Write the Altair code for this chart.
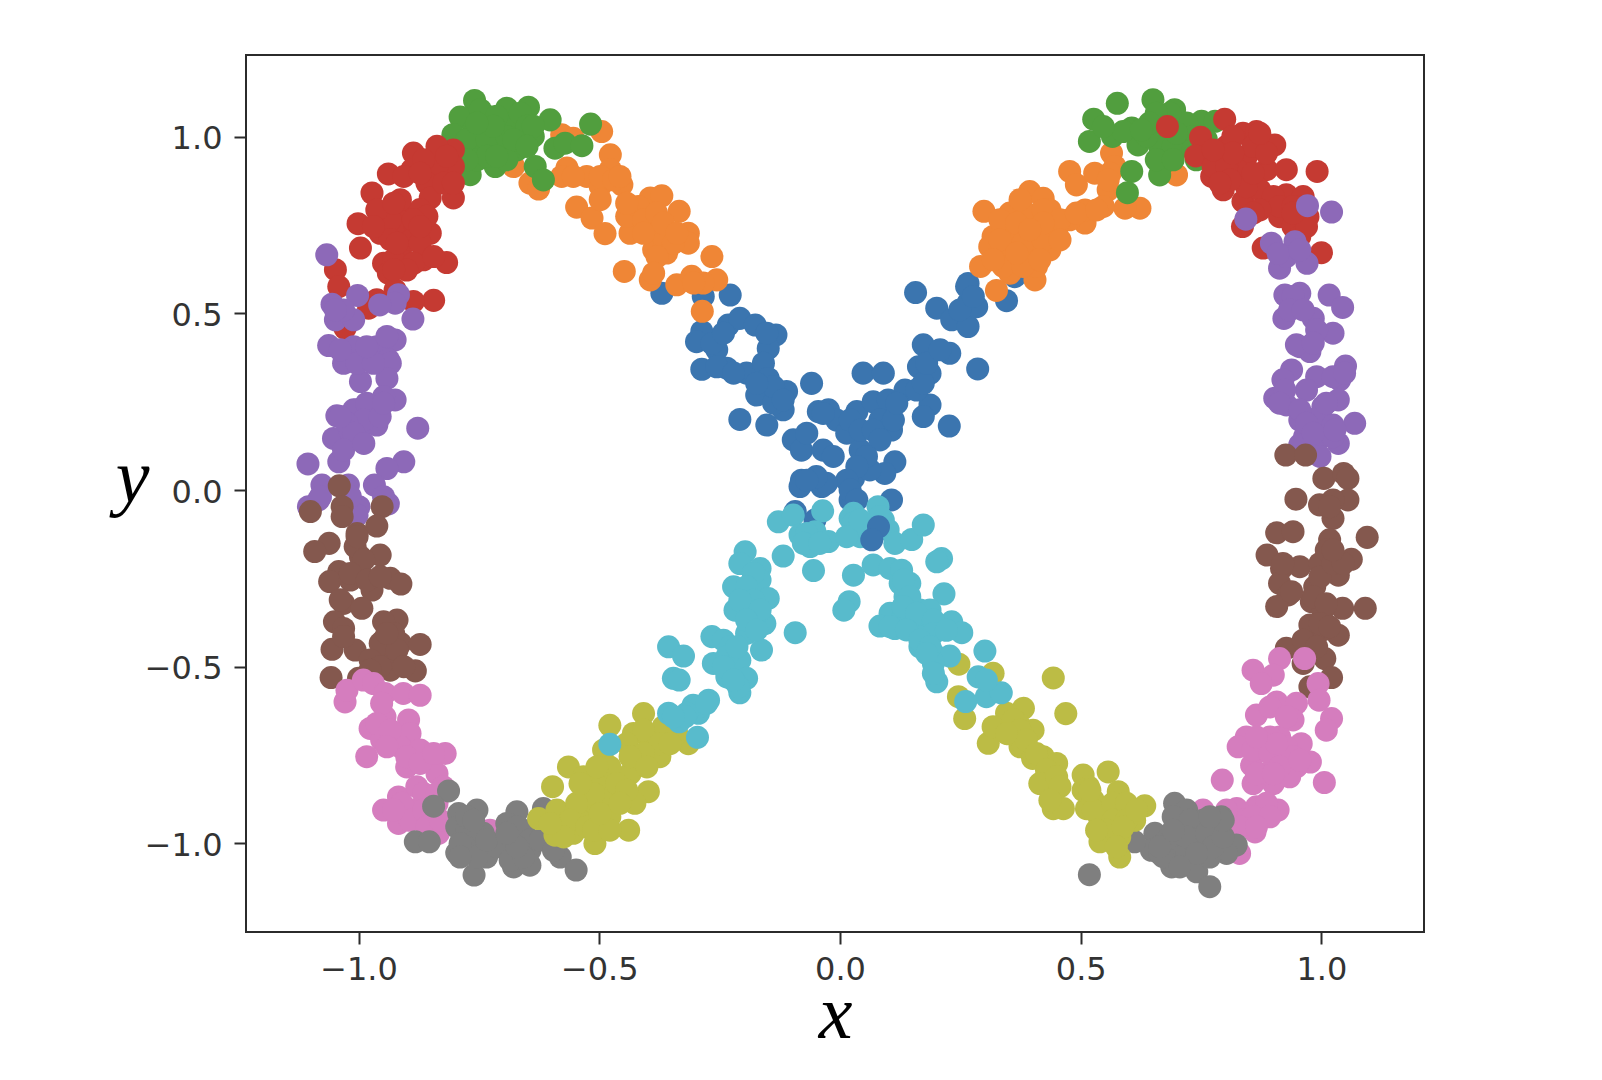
import altair as alt
import pandas as pd

blue = [(-0.370,0.557),(-0.284,0.548),(-0.228,0.552),(-0.287,0.449),(-0.298,0.420),(-0.232,0.467),(-0.208,0.486),(-0.176,0.467),(-0.133,0.439),(-0.149,0.401),(-0.256,0.397),(-0.287,0.342),(-0.235,0.345),(-0.194,0.331),(-0.159,0.359),(-0.149,0.316),(-0.173,0.269),(-0.111,0.279),(-0.059,0.302),(-0.208,0.200),(-0.152,0.184),(-0.118,0.227),(-0.138,0.246),(-0.097,0.142),(-0.080,0.113),(-0.045,0.222),(-0.024,0.227),(-0.007,0.198),(-0.035,0.113),(-0.014,0.095),(-0.069,0.161),(0.035,0.222),(0.014,0.161),(0.042,0.113),(0.069,0.250),(0.100,0.255),(0.107,0.170),(0.083,0.198),(0.048,0.331),(0.090,0.331),(0.135,0.283),(0.173,0.411),(0.163,0.349),(0.187,0.330),(0.228,0.387),(0.187,0.241),(0.173,0.208),(0.227,0.181),(0.286,0.343),(0.157,0.559),(0.201,0.515),(0.232,0.482),(0.266,0.463),(0.266,0.529),(0.266,0.585),(0.284,0.519),(0.114,0.080),(0.093,0.047),(0.028,0.033),(-0.080,0.028),(-0.083,0.010),(-0.038,0.010),(0.021,-0.028),(0.107,-0.028),(-0.093,-0.061),(-0.052,-0.085),(0.062,0.057),(0.346,0.536),(0.363,0.604),(0.263,0.576),
 (-0.138,0.293),(-0.118,0.255),(-0.173,0.302),(-0.266,0.415),(-0.242,0.444),(-0.152,0.444),(-0.256,0.349),(-0.221,0.331),(0.021,0.198),(0.042,0.170),(0.069,0.170),(0.083,0.142),(0.111,0.198),(0.118,0.246),(0.159,0.283),(0.173,0.302),(0.180,0.359),(0.208,0.397),(0.249,0.510),(0.277,0.548),(0.055,0.095),(0.035,0.066),(0.014,0.028),(0.021,0.000),(0.035,-0.028),(-0.028,0.019),(-0.049,0.038),(-0.069,0.028),(-0.035,0.217)]
orange = [(-0.495,1.015),(-0.578,1.006),(-0.554,0.996),(-0.477,0.949),(-0.678,0.916),(-0.644,0.869),(-0.626,0.852),(-0.567,0.912),(-0.578,0.888),(-0.526,0.888),(-0.498,0.860),(-0.477,0.907),(-0.453,0.864),(-0.547,0.801),(-0.515,0.770),(-0.488,0.726),(-0.436,0.727),(-0.443,0.775),(-0.394,0.827),(-0.370,0.833),(-0.334,0.789),(-0.419,0.803),(-0.408,0.765),(-0.380,0.727),(-0.315,0.727),(-0.315,0.699),(-0.387,0.680),(-0.360,0.671),(-0.266,0.661),(-0.448,0.619),(-0.394,0.595),(-0.339,0.581),(-0.308,0.605),(-0.256,0.595),(-0.286,0.506),(-0.284,0.586),(-0.367,0.718),(0.699,0.892),(0.564,0.954),(0.571,0.916),(0.477,0.902),(0.491,0.864),(0.529,0.897),(0.557,0.850),(0.623,0.798),(0.592,0.798),(0.547,0.803),(0.509,0.756),(0.509,0.793),(0.477,0.765),(0.394,0.845),(0.422,0.826),(0.299,0.789),(0.353,0.784),(0.387,0.784),(0.436,0.793),(0.318,0.718),(0.360,0.727),(0.401,0.737),(0.450,0.737),(0.346,0.671),(0.394,0.671),(0.436,0.680),(0.292,0.633),(0.353,0.614),(0.405,0.595),(0.325,0.565),(0.408,0.633),
 (0.332,0.765),(0.374,0.822),(0.422,0.793),(0.311,0.689),(0.332,0.708),(0.367,0.756),(0.380,0.699),(0.422,0.708),(0.457,0.765),(0.422,0.756),(0.339,0.633),(0.380,0.633),(0.318,0.652),(0.367,0.671),(0.394,0.737),(0.415,0.652),(0.457,0.708),(0.491,0.784),(0.533,0.793),(0.561,0.897),(0.557,0.878),
 (-0.381,0.784),(-0.408,0.727),(-0.346,0.699),(-0.367,0.756),(-0.380,0.661),(-0.339,0.727),(-0.443,0.812),(-0.498,0.888),(-0.470,0.878),(-0.304,0.586),(-0.457,0.888),(-0.387,0.614),(-0.554,0.888),(-0.498,0.822)]
green = [(-0.759,1.103),(-0.789,1.056),(-0.733,1.058),(-0.692,1.081),(-0.647,1.084),(-0.602,1.048),(-0.518,1.036),(-0.804,1.006),(-0.761,1.020),(-0.720,1.020),(-0.678,1.039),(-0.664,1.001),(-0.637,1.001),(-0.747,0.973),(-0.706,0.982),(-0.671,0.963),(-0.768,0.893),(-0.716,0.916),(-0.692,0.935),(-0.633,0.916),(-0.616,0.878),(-0.592,0.968),(-0.571,0.982),(-0.536,0.975),(-0.754,0.935),(-0.789,0.963),(0.576,1.095),(0.650,1.105),(0.695,1.077),(0.527,1.050),(0.518,0.987),(0.566,1.001),(0.606,1.025),(0.619,0.977),(0.657,1.039),(0.682,1.020),(0.664,0.973),(0.671,0.925),(0.664,0.892),(0.751,1.044),(0.779,1.044),(0.720,1.039),(0.706,0.982),(0.606,0.902),(0.597,0.842),(0.740,0.935),(0.761,0.992),
 (-0.747,1.077),(-0.713,1.058),(-0.664,1.067),(-0.775,0.992),(-0.733,0.992),(-0.692,1.001),(-0.650,1.030),(-0.733,0.945),(-0.775,0.935),(-0.720,1.030),(-0.678,0.992),(-0.637,1.030),(-0.650,0.973),(-0.754,1.039),(-0.713,0.945),
 (0.637,1.001),(0.685,1.067),(0.657,1.067),(0.692,0.973),(0.643,1.039),(0.733,1.001),(0.699,1.010),(0.657,0.935),(0.692,0.935),(0.588,1.015),(0.626,1.020),(0.547,1.029),(0.733,0.963)]
red = [(-0.803,0.963),(-0.837,0.973),(-0.886,0.954),(-0.803,0.916),(-0.837,0.916),(-0.938,0.895),(-0.889,0.907),(-0.972,0.841),(-0.858,0.869),(-0.803,0.827),(-0.851,0.827),(-1.001,0.754),(-0.955,0.784),(-0.913,0.794),(-0.872,0.794),(-0.955,0.727),(-0.913,0.737),(-0.851,0.727),(-0.882,0.746),(-0.996,0.685),(-0.913,0.680),(-0.948,0.642),(-0.906,0.652),(-0.865,0.652),(-0.817,0.644),(-0.938,0.614),(-1.048,0.624),(-1.041,0.576),(-0.844,0.537),(-0.886,0.534),(-0.962,0.539),(-0.979,0.515),(-1.028,0.458),(-0.924,0.567),(-0.889,0.709),(-0.934,0.765),(-0.858,0.775),(0.680,1.029),(0.799,1.050),(0.749,0.999),(0.739,0.946),(0.782,0.944),(0.837,1.010),(0.865,1.015),(0.903,0.977),(0.803,0.973),(0.844,0.944),(0.886,0.907),(0.927,0.907),(0.991,0.902),(0.772,0.888),(0.796,0.850),(0.837,0.888),(0.837,0.817),(0.872,0.850),(0.927,0.836),(0.962,0.831),(0.913,0.774),(0.972,0.774),(0.941,0.746),(0.836,0.746),(0.955,0.718),(0.879,0.685),(1.000,0.672),(0.824,0.907),
 (-0.865,0.935),(-0.817,0.945),(-0.906,0.888),(-0.872,0.897),(-0.823,0.869),(-0.803,0.869),(-0.913,0.822),(-0.962,0.793),(-0.927,0.812),(-0.934,0.709),(-0.969,0.746),(-0.872,0.699),(-0.886,0.765),(-0.872,0.746),(-0.927,0.652),(-0.886,0.642),(-0.844,0.661),(-0.900,0.623),(-0.927,0.624),(-0.920,0.699),
 (0.816,1.001),(0.775,0.916),(0.803,0.916),(0.858,0.973),(0.886,0.954),(0.844,0.859),(0.810,0.878),(0.789,0.869),(0.858,0.897),(0.900,0.831),(0.913,0.803),(0.941,0.803),(0.955,0.784),(0.872,0.793),(0.858,0.784),(0.969,0.746),(0.941,0.784),(0.816,0.954),(0.775,0.963),(0.872,1.010)]
purple = [(-1.066,0.666),(-1.002,0.551),(-1.055,0.526),(-1.048,0.482),(-1.010,0.482),(-0.917,0.553),(-0.924,0.529),(-0.956,0.524),(-0.887,0.484),(-1.062,0.409),(-1.010,0.406),(-0.962,0.406),(-0.924,0.425),(-1.027,0.369),(-0.983,0.378),(-0.938,0.369),(-1.031,0.359),(-0.934,0.359),(-0.996,0.307),(-0.941,0.316),(-0.924,0.255),(-1.045,0.210),(-1.010,0.227),(-0.962,0.236),(-0.962,0.184),(-1.052,0.146),(-0.996,0.142),(-0.877,0.175),(-1.041,0.080),(-1.105,0.074),(-0.906,0.080),(-0.941,0.061),(-0.967,0.014),(-1.076,0.014),(-1.021,0.014),(-1.104,-0.047),(-1.083,-0.028),(-0.938,-0.039),(-0.999,-0.047),(-1.003,-0.071),(-1.017,0.165),(0.896,0.699),(0.945,0.703),(0.913,0.628),(0.970,0.642),(0.927,0.661),(0.924,0.552),(0.955,0.557),(1.016,0.552),(1.044,0.517),(0.922,0.486),(0.983,0.486),(1.024,0.444),(0.955,0.406),(0.976,0.392),(0.938,0.340),(0.920,0.312),(1.050,0.351),(0.990,0.321),(1.038,0.312),(0.969,0.283),(0.903,0.260),(0.927,0.241),(1.035,0.255),(1.003,0.236),(0.955,0.198),(0.990,0.203),(1.069,0.189),(1.024,0.184),(1.035,0.132),(0.965,0.151),(0.997,0.146),(0.955,0.128),(0.997,0.095),(0.843,0.767),(0.971,0.805),(1.021,0.787),
 (-1.003,0.359),(-0.969,0.359),(-1.003,0.227),(-0.983,0.246),(-0.948,0.264),(-0.989,0.198),(-0.955,0.208),(-1.024,0.189),(-1.010,0.161),(-1.031,0.113),(-0.989,0.132),(-0.948,0.246),(-1.079,-0.019),(-1.017,-0.019),(-0.948,-0.019),(-1.038,0.208),(-1.031,0.510),(-1.048,0.510),(-1.038,0.397),(-0.983,0.406),(-0.941,0.435),
 (0.910,0.670),(0.955,0.680),(0.941,0.548),(0.934,0.510),(0.962,0.510),(0.990,0.453),(0.948,0.411),(0.983,0.416),(0.924,0.283),(0.913,0.246),(0.955,0.227),(0.969,0.189),(1.024,0.151),(0.983,0.161),(1.010,0.246),(1.024,0.321),(1.048,0.331),(1.028,0.170)]
brown = [(-1.040,0.012),(-1.100,-0.061),(-1.034,-0.047),(-1.034,-0.075),(-0.951,-0.047),(-0.962,-0.102),(-1.003,-0.123),(-1.061,-0.151),(-1.091,-0.174),(-0.955,-0.184),(-0.996,-0.189),(-1.041,-0.231),(-1.060,-0.259),(-1.017,-0.255),(-0.972,-0.283),(-0.934,-0.250),(-0.912,-0.266),(-1.031,-0.321),(-0.993,-0.335),(-1.050,-0.373),(-1.031,-0.392),(-0.920,-0.368),(-0.948,-0.373),(-1.055,-0.451),(-1.007,-0.453),(-0.948,-0.425),(-0.913,-0.434),(-0.872,-0.437),(-0.962,-0.481),(-0.924,-0.481),(-0.882,-0.512),(-1.057,-0.531),(-1.000,-0.533),(-0.934,-0.510),(0.926,0.099),(0.967,0.099),(1.005,0.033),(1.046,0.047),(1.055,0.033),(0.947,-0.026),(0.996,-0.042),(1.055,-0.028),(1.024,-0.080),(0.907,-0.121),(0.941,-0.118),(1.095,-0.134),(1.017,-0.141),(0.887,-0.184),(0.917,-0.222),(0.955,-0.217),(0.997,-0.208),(1.062,-0.196),(1.035,-0.241),(0.913,-0.264),(0.931,-0.297),(0.907,-0.330),(0.986,-0.274),(0.979,-0.316),(1.044,-0.335),(1.091,-0.335),(1.003,-0.340),(0.976,-0.382),(1.035,-0.411),(1.003,-0.396),(0.927,-0.448),(0.962,-0.425),(0.962,-0.491),(1.007,-0.477),(1.021,-0.531),(0.976,-0.557),
 (-1.007,-0.160),(-0.989,-0.198),(-1.003,-0.132),(-1.017,-0.236),(-0.982,-0.255),(-0.955,-0.434),(-0.927,-0.406),(-0.920,-0.453),(-0.976,-0.481),(-0.941,-0.406),(-1.031,-0.415),(-0.955,-0.245),(-1.038,-0.311),(-0.906,-0.500),(-0.955,-0.500),(-0.976,-0.510),
 (1.024,-0.028),(1.017,-0.047),(1.010,-0.170),(0.997,-0.246),(1.024,-0.208),(1.045,-0.208),(0.983,-0.302),(1.010,-0.322),(0.997,-0.378),(1.017,-0.387),(0.990,-0.444),(0.920,-0.208),(0.938,-0.288),(1.024,-0.170)]
pink = [(-1.028,-0.600),(-1.024,-0.567),(-0.990,-0.538),(-0.969,-0.548),(-0.945,-0.576),(-0.907,-0.576),(-0.872,-0.581),(-0.945,-0.642),(-0.976,-0.675),(-0.896,-0.651),(-0.893,-0.689),(-0.952,-0.708),(-0.983,-0.755),(-0.913,-0.727),(-0.872,-0.736),(-0.820,-0.746),(-0.900,-0.784),(-0.851,-0.765),(-0.837,-0.803),(-0.917,-0.869),(-0.879,-0.840),(-0.948,-0.906),(-0.917,-0.944),(-0.886,-0.906),(-0.837,-0.887),(-0.834,-0.972),(-0.727,-0.963),(0.858,-0.510),(0.913,-0.477),(0.965,-0.477),(0.900,-0.524),(0.875,-0.548),(0.993,-0.548),(0.995,-0.595),(0.865,-0.637),(0.907,-0.600),(0.948,-0.604),(0.941,-0.651),(1.021,-0.647),(1.010,-0.680),(0.844,-0.699),(0.827,-0.727),(0.875,-0.727),(0.913,-0.699),(0.958,-0.718),(0.977,-0.770),(0.855,-0.779),(0.913,-0.755),(0.948,-0.784),(0.794,-0.821),(0.858,-0.831),(0.900,-0.831),(1.006,-0.828),(0.910,-0.906),(0.824,-0.902),(0.865,-0.897),(0.862,-0.968),(0.837,-0.935),(0.934,-0.812),(0.754,-0.906),(0.830,-1.029),
 (-0.952,-0.604),(-0.962,-0.661),(-0.934,-0.680),(-0.941,-0.727),(-0.900,-0.755),(-0.872,-0.774),(-0.844,-0.746),(-0.910,-0.887),(-0.865,-0.859),(-0.893,-0.935),(-0.865,-0.906),(-0.858,-0.954),(-0.830,-0.935),(-0.927,-0.906),(-0.824,-0.840),(-0.837,-0.859),
 (0.893,-0.614),(0.927,-0.642),(0.858,-0.736),(0.893,-0.699),(0.893,-0.746),(0.927,-0.727),(0.941,-0.755),(0.913,-0.784),(0.886,-0.803),(0.865,-0.803),(0.900,-0.803),(0.886,-0.887),(0.858,-0.925),(0.893,-0.925),(0.830,-0.953),(0.865,-0.953),(0.803,-0.906),(0.907,-0.718),(0.955,-0.765),(0.865,-0.699)]
gray = [(-0.813,-0.852),(-0.844,-0.895),(-0.882,-0.996),(-0.853,-0.996),(-0.792,-0.916),(-0.754,-0.906),(-0.671,-0.911),(-0.796,-0.954),(-0.761,-0.972),(-0.692,-0.944),(-0.657,-0.963),(-0.796,-1.027),(-0.760,-1.090),(-0.734,-1.039),(-0.761,-1.020),(-0.678,-1.067),(-0.644,-1.062),(-0.685,-1.001),(-0.644,-1.020),(-0.581,-1.039),(-0.548,-1.076),(-0.616,-0.902),(0.518,-1.089),(0.695,-0.887),(0.720,-0.906),(0.792,-0.925),(0.754,-0.935),(0.654,-0.972),(0.647,-1.020),(0.706,-0.963),(0.747,-0.991),(0.689,-1.067),(0.741,-1.081),(0.768,-1.123),(0.823,-1.005),(0.803,-1.029),(0.768,-1.039),(0.692,-1.010),(0.782,-0.972),(0.612,-0.996),
 (-0.775,-0.963),(-0.741,-0.972),(-0.789,-1.001),(-0.754,-1.039),(-0.713,-1.010),(-0.671,-0.954),(-0.685,-1.048),(-0.644,-0.991),(-0.657,-1.039),(-0.671,-1.010),(-0.623,-0.991),(-0.734,-0.991),(-0.775,-0.925),(-0.692,-0.972),(-0.761,-0.935),(-0.595,-1.020),(-0.789,-1.039),
 (0.692,-0.925),(0.727,-0.935),(0.706,-1.010),(0.720,-1.029),(0.678,-0.991),(0.720,-0.982),(0.761,-0.972),(0.775,-1.010),(0.796,-0.982),(0.741,-1.029),(0.664,-1.029),(0.671,-1.038),(0.706,-1.067),(0.664,-1.010),(0.796,-0.935),(0.768,-0.925),(0.692,-0.963)]
olive = [(-0.478,-0.666),(-0.408,-0.633),(-0.491,-0.736),(-0.564,-0.784),(-0.597,-0.840),(-0.429,-0.689),(-0.394,-0.708),(-0.315,-0.718),(-0.374,-0.755),(-0.533,-0.812),(-0.491,-0.821),(-0.436,-0.803),(-0.398,-0.854),(-0.526,-0.878),(-0.478,-0.878),(-0.426,-0.887),(-0.626,-0.930),(-0.588,-0.906),(-0.592,-0.977),(-0.554,-0.972),(-0.512,-0.925),(-0.509,-1.001),(-0.439,-0.963),(-0.478,-0.925),(-0.540,-0.935),(-0.367,-0.670),(0.247,-0.493),(0.318,-0.519),(0.246,-0.585),(0.259,-0.647),(0.381,-0.618),(0.308,-0.717),(0.346,-0.632),(0.401,-0.680),(0.374,-0.727),(0.318,-0.670),(0.443,-0.532),(0.469,-0.633),(0.422,-0.755),(0.450,-0.774),(0.436,-0.831),(0.443,-0.902),(0.464,-0.902),(0.505,-0.807),(0.557,-0.798),(0.516,-0.840),(0.512,-0.902),(0.578,-0.854),(0.540,-0.935),(0.581,-0.906),(0.633,-0.894),(0.612,-0.935),(0.540,-0.996),(0.581,-1.039),(0.581,-0.982),(0.35,-0.69),(0.38,-0.72),(0.40,-0.76),(0.37,-0.66),
 (-0.408,-0.680),(-0.374,-0.718),(-0.443,-0.718),(-0.408,-0.746),(-0.436,-0.755),(-0.478,-0.784),(-0.505,-0.784),(-0.464,-0.831),(-0.512,-0.859),(-0.443,-0.850),(-0.547,-0.887),(-0.561,-0.935),(-0.526,-0.954),(-0.574,-0.982),(-0.512,-0.963),(-0.478,-0.963),(-0.498,-0.916),(-0.540,-0.831),(-0.339,-0.689),(-0.353,-0.718),(-0.401,-0.784),(-0.457,-0.887),(-0.602,-0.944),
 (0.360,-0.651),(0.374,-0.680),(0.387,-0.708),(0.346,-0.689),(0.408,-0.746),(0.429,-0.793),(0.415,-0.831),(0.450,-0.812),(0.457,-0.840),(0.436,-0.878),(0.505,-0.850),(0.526,-0.878),(0.526,-0.906),(0.567,-0.887),(0.567,-0.935),(0.595,-0.887),(0.595,-0.935),(0.554,-0.963),(0.588,-0.954),(0.616,-0.906),(0.533,-0.963),(0.574,-1.010),(0.519,-0.850)]
cyan = [(-0.128,-0.090),(-0.097,-0.071),(-0.036,-0.059),(-0.083,-0.127),(-0.062,-0.160),(-0.052,-0.118),(-0.024,-0.146),(0.028,-0.066),(0.028,-0.113),(0.021,-0.080),(0.079,-0.047),(0.090,-0.085),(0.100,-0.113),(0.055,-0.132),(0.114,-0.151),(0.149,-0.140),(0.173,-0.099),(0.211,-0.194),(0.201,-0.203),(-0.118,-0.187),(-0.055,-0.228),(-0.197,-0.175),(-0.208,-0.208),(-0.166,-0.222),(-0.166,-0.255),(-0.221,-0.274),(-0.194,-0.312),(-0.149,-0.307),(-0.218,-0.340),(-0.173,-0.349),(-0.156,-0.378),(-0.194,-0.406),(-0.266,-0.415),(-0.242,-0.425),(-0.163,-0.453),(-0.093,-0.404),(-0.218,-0.463),(-0.263,-0.491),(-0.208,-0.482),(-0.235,-0.529),(-0.194,-0.533),(-0.208,-0.574),(-0.356,-0.444),(-0.325,-0.470),(-0.346,-0.533),(-0.334,-0.538),(-0.273,-0.595),(-0.305,-0.609),(-0.356,-0.632),(-0.334,-0.656),(-0.294,-0.632),(-0.296,-0.700),(0.028,-0.241),(0.069,-0.212),(0.104,-0.222),(0.128,-0.227),(0.145,-0.264),(0.135,-0.302),(0.019,-0.316),(0.008,-0.340),(0.216,-0.294),(0.104,-0.349),(0.083,-0.385),(0.131,-0.359),(0.166,-0.340),(0.187,-0.340),(0.114,-0.392),(0.159,-0.401),(0.173,-0.415),(0.232,-0.373),(0.253,-0.404),(0.166,-0.444),(0.194,-0.463),(0.228,-0.470),(0.194,-0.491),(0.201,-0.543),(0.301,-0.456),(0.287,-0.529),(0.304,-0.585),(0.335,-0.574),(0.261,-0.599),(0.304,-0.538),(-0.478,-0.720),
 (-0.180,-0.236),(-0.194,-0.274),(-0.180,-0.312),(-0.208,-0.312),(-0.166,-0.340),(-0.194,-0.368),(-0.173,-0.396),(-0.228,-0.444),(-0.235,-0.472),(-0.214,-0.444),(-0.242,-0.500),(-0.211,-0.557),(-0.221,-0.538),(-0.291,-0.613),(-0.318,-0.632),(-0.322,-0.642),(-0.346,-0.642),(-0.277,-0.604),
 (-0.069,-0.123),(-0.076,-0.151),(-0.042,-0.151),(0.028,-0.094),(0.042,-0.132),(0.014,-0.132),(0.083,-0.075),(0.042,-0.085),
 (0.125,-0.264),(0.132,-0.255),(0.145,-0.302),(0.131,-0.330),(0.159,-0.349),(0.194,-0.368),(0.104,-0.387),(0.138,-0.396),(0.194,-0.406),(0.221,-0.397),(0.166,-0.425),(0.187,-0.444),(0.180,-0.463),(0.194,-0.519)]
blue_top = [(0.080,-0.104),(0.066,-0.141)]

series = [blue, orange, green, red, purple, brown, pink, gray, olive, cyan, blue_top]
colours = ["#3b75af", "#ef8636", "#519e3e", "#c53a32", "#8d69b8", "#84584e",
           "#d57dbe", "#7f7f7f", "#bcbc45", "#58bbcc", "#3b75af"]
tick_values = [-1.0, -0.5, 0.0, 0.5, 1.0]
x_domain = [-1.2337, 1.213]
y_domain = [-1.2513, 1.2317]

rows = []
n = 0
for i, pts in enumerate(series):
    for px, py in pts:
        rows.append({"x": px, "y": py, "cluster": i, "n": n})
        n += 1
df = pd.DataFrame(rows)

INK = "#2b2b2b"
chart = (
    alt.Chart(df)
    .mark_circle(size=530, opacity=1)
    .encode(
        x=alt.X(
            "x:Q",
            scale=alt.Scale(domain=x_domain, nice=False, zero=False),
            axis=alt.Axis(values=tick_values, format=".1f", grid=False, title="x",
                          titleFont="Liberation Serif", titleFontStyle="italic",
                          titleFontWeight="normal", titleFontSize=76, titleColor="#000000",
                          titlePadding=-8, labelFont="DejaVu Sans", labelFontSize=32,
                          labelColor="#333333", labelPadding=10, tickSize=12, tickWidth=2,
                          tickColor=INK, domain=False, labelFlush=False, labelOverlap=False),
        ),
        y=alt.Y(
            "y:Q",
            scale=alt.Scale(domain=y_domain, nice=False, zero=False),
            axis=alt.Axis(values=tick_values, format=".1f", grid=False, title="y",
                          titleFont="Liberation Serif", titleFontStyle="italic",
                          titleFontWeight="normal", titleFontSize=76, titleColor="#000000",
                          titleAngle=0, titleAlign="center", titleBaseline="middle",
                          titleX=-114, titleY=423, labelFont="DejaVu Sans", labelFontSize=32,
                          labelColor="#333333", labelPadding=12, labelOffset=2, tickSize=12,
                          tickWidth=2, tickColor=INK, domain=False, labelFlush=False,
                          labelOverlap=False),
        ),
        color=alt.Color("cluster:N", legend=None,
                        scale=alt.Scale(domain=list(range(len(series))), range=colours)),
        order=alt.Order("n:Q"),
    )
    .properties(
        width=1178,
        height=877,
        padding={"left": 238, "top": 47, "right": 170, "bottom": 130},
        autosize=alt.AutoSizeParams(type="none"),
        background="#ffffff",
    )
    .configure_view(stroke=INK, strokeWidth=2)
)
chart.save("out.html", embed_options={"renderer": "svg", "actions": False})
